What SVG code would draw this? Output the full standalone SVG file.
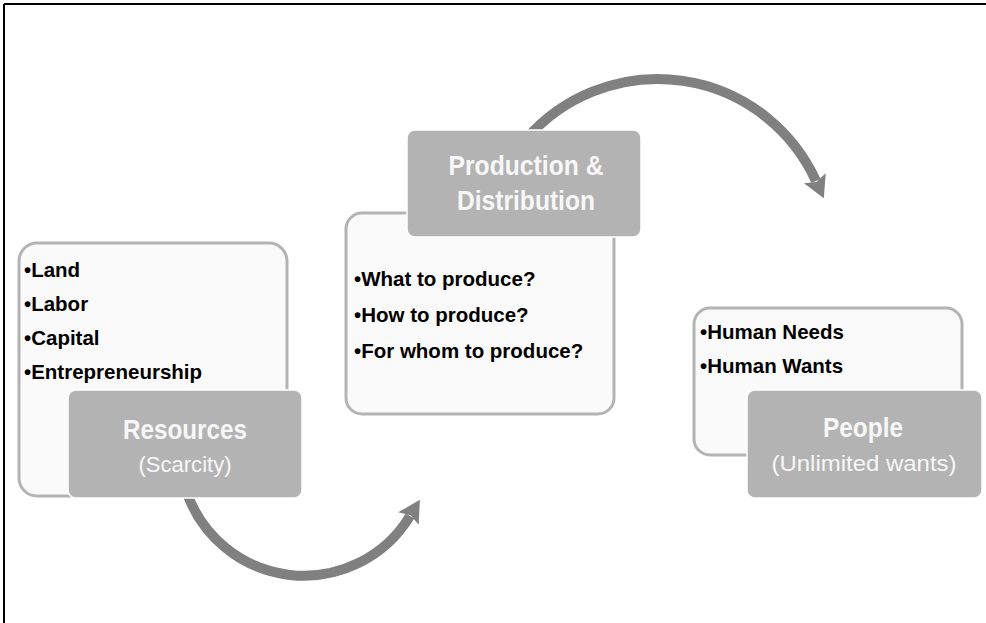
<svg xmlns="http://www.w3.org/2000/svg" width="986" height="623" viewBox="0 0 986 623">
  <style>
    .light { fill: #fafafa; stroke: #b3b3b3; stroke-width: 3; }
    .dark { fill: #b3b3b3; stroke: #ffffff; stroke-width: 1.5; }
    .title { font-family: "Liberation Sans", Arial, sans-serif; font-weight: bold; font-size: 28px; fill: #f7f7f7; text-anchor: middle; }
    .sub { font-family: "Liberation Sans", Arial, sans-serif; font-size: 22px; fill: #f7f7f7; text-anchor: middle; }
    .bul { font-family: "Liberation Sans", Arial, sans-serif; font-weight: bold; font-size: 20.5px; fill: #000000; }
    .arc { fill: none; stroke: #808080; stroke-width: 10; }
  </style>
  <defs>
    <marker id="head" markerUnits="userSpaceOnUse" viewBox="0 0 22 24" markerWidth="22" markerHeight="24" refX="3" refY="12" orient="auto">
      <path d="M0,0 L22,12 L0,24 L4,12 z" fill="#808080"/>
    </marker>
  </defs>
  <rect width="986" height="623" fill="#ffffff"/>
  <g id="frame" stroke="#000000" stroke-width="2">
    <line x1="4" y1="4" x2="986" y2="4"/>
    <line x1="4" y1="4" x2="4" y2="623"/>
  </g>
  <g id="connectors">
    <path class="arc" d="M 186 490 A 124 124 0 0 0 410 516" marker-end="url(#head)"/>
    <path class="arc" d="M 527 138 A 174 174 0 0 1 816 181" marker-end="url(#head)"/>
  </g>
  <g id="resources">
    <rect class="light" x="19" y="243" width="268" height="253" rx="18"/>
    <text class="bul" x="24" y="277">•Land</text>
    <text class="bul" x="24" y="311">•Labor</text>
    <text class="bul" x="24" y="345">•Capital</text>
    <text class="bul" x="24" y="379">•Entrepreneurship</text>
    <rect class="dark" x="68" y="390" width="234" height="108" rx="8"/>
    <text class="title" x="185" y="439" textLength="124" lengthAdjust="spacingAndGlyphs">Resources</text>
    <text class="sub" x="185" y="472" textLength="93" lengthAdjust="spacingAndGlyphs">(Scarcity)</text>
  </g>
  <g id="production">
    <rect class="light" x="346" y="213" width="268" height="201" rx="16"/>
    <text class="bul" x="354" y="286">•What to produce?</text>
    <text class="bul" x="354" y="322">•How to produce?</text>
    <text class="bul" x="354" y="358">•For whom to produce?</text>
    <rect class="dark" x="407" y="130" width="234" height="107" rx="8"/>
    <text class="title" x="526" y="175" textLength="155" lengthAdjust="spacingAndGlyphs">Production &amp;</text>
    <text class="title" x="526" y="210" textLength="138" lengthAdjust="spacingAndGlyphs">Distribution</text>
  </g>
  <g id="people">
    <rect class="light" x="694" y="308" width="268" height="147" rx="16"/>
    <text class="bul" x="700" y="339">•Human Needs</text>
    <text class="bul" x="700" y="373">•Human Wants</text>
    <rect class="dark" x="747" y="390" width="235" height="108" rx="8"/>
    <text class="title" x="863" y="437" textLength="80" lengthAdjust="spacingAndGlyphs">People</text>
    <text class="sub" x="864" y="471" textLength="185" lengthAdjust="spacingAndGlyphs">(Unlimited wants)</text>
  </g>
</svg>
